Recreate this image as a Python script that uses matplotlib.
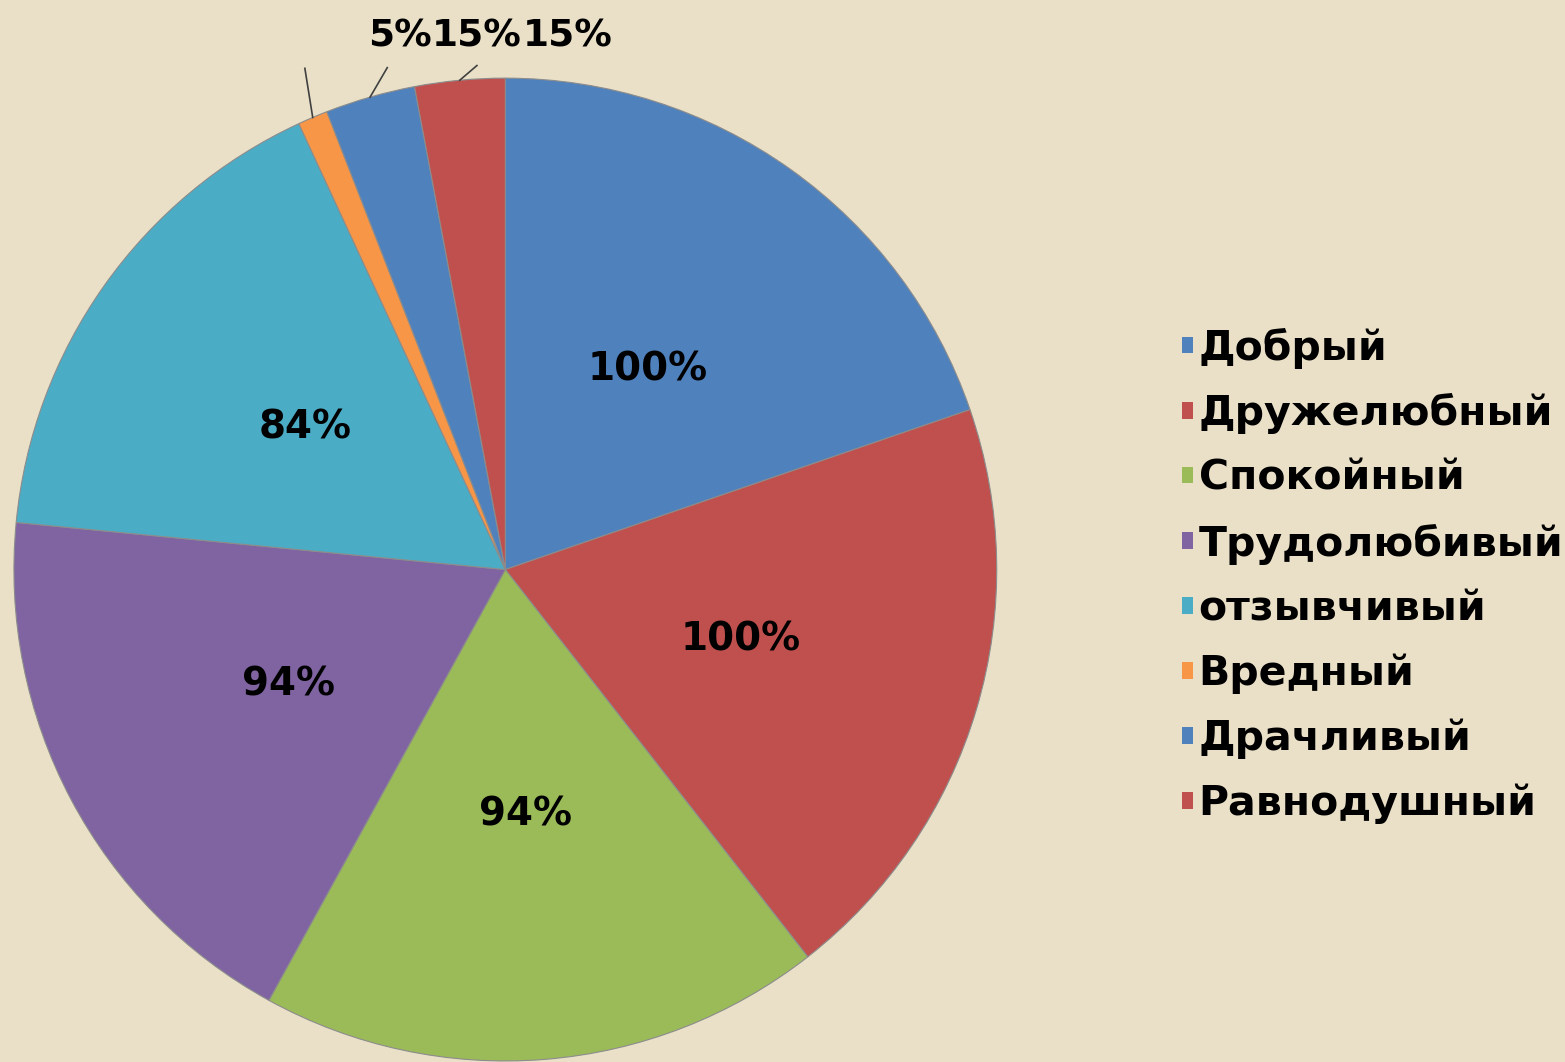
import matplotlib.pyplot as plt
import numpy as np

# Data
categories = ['Добрый', 'Дружелюбный', 'Спокойный', 'Трудолюбивый',
              'отзывчивый', 'Вредный', 'Драчливый', 'Равнодушный']
values = [100, 100, 94, 94, 84, 5, 15, 15]
colors = ['#4F81BD', '#C0504D', '#9BBB59', '#8064A2',
          '#4BACC6', '#F79646', '#4F81BD', '#C0504D']

bg = '#E9E0C7'

fig = plt.figure(figsize=(15.65, 10.62), dpi=100, facecolor=bg)
ax = fig.add_axes([0.0089, 0.0009, 0.628, 0.9256])
ax.set_facecolor(bg)

wedges, _ = ax.pie(values, colors=colors, startangle=90, counterclock=False,
                   radius=1, center=(0, 0),
                   wedgeprops=dict(edgecolor='#8c8c8c', linewidth=0.8))
ax.set_xlim(-1, 1)
ax.set_ylim(-1, 1)
ax.set_aspect('equal')
ax.axis('off')

label_font = dict(fontsize=28, fontweight='bold', color='black', family='DejaVu Sans')

# inside labels for the big slices, outside with leader lines for the small ones
outside = {5: ((-0.016, 0.10), -0.215), 6: ((0.035, 0.06), -0.058), 7: ((0.035, 0.03), 0.128)}
for i, (w, v) in enumerate(zip(wedges, values)):
    mid = np.deg2rad((w.theta1 + w.theta2) / 2)
    if i in outside:
        (dx, dy), tx = outside[i]
        ex, ey = np.cos(mid), np.sin(mid)
        ax.plot([ex, ex + dx], [ey, ey + dy], color='#404040', lw=1.2, clip_on=False)
        ax.text(tx, 1.085, f'{v}%', ha='center', va='center', clip_on=False,
                **dict(label_font, fontsize=27))
    else:
        ax.text(0.5 * np.cos(mid), 0.5 * np.sin(mid), f'{v}%',
                ha='center', va='center', **label_font)

leg = fig.legend(wedges, categories, loc='center left', bbox_to_anchor=(0.745, 0.4576),
                 frameon=False, handlelength=0.25, handleheight=0.25, handletextpad=0.15,
                 labelspacing=0.6, borderaxespad=0,
                 prop=dict(size=29.5, weight='bold', family='DejaVu Sans'))
for h in leg.legend_handles:
    h.set_linewidth(0)

fig.savefig('out.png', dpi=100, facecolor=bg)
